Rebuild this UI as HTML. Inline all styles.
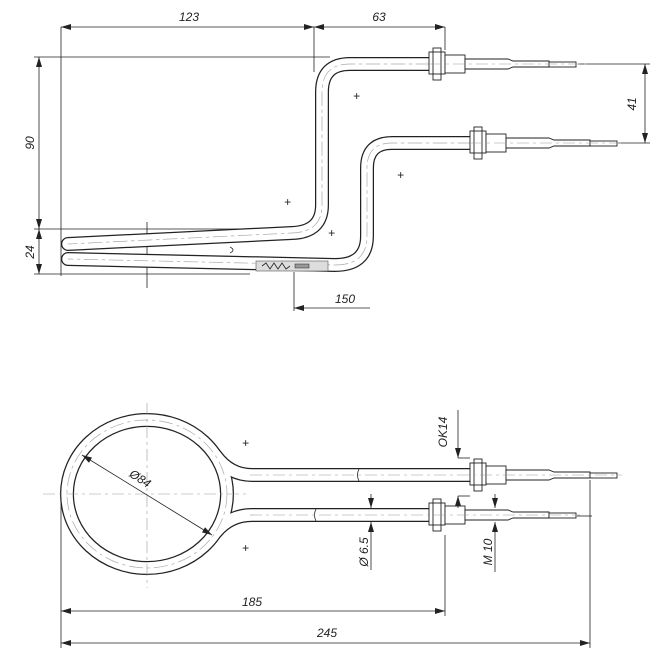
<!DOCTYPE html>
<html><head><meta charset="utf-8"><style>
html,body{margin:0;padding:0;background:#fff}
svg{display:block}
text{font-family:"Liberation Sans",sans-serif;font-style:italic;font-size:12px;fill:#222}
</style></head><body>
<svg width="670" height="655" viewBox="0 0 670 655" xmlns="http://www.w3.org/2000/svg">
<defs>
<marker id="a" viewBox="0 0 10 6" refX="10" refY="3" markerWidth="10" markerHeight="6" orient="auto-start-reverse" markerUnits="userSpaceOnUse"><path d="M0,0L10,3L0,6z" fill="#222"/></marker>
<g id="tubeU"><path d="M430,64 H350 Q322,64 322,92 V205 Q322,232 292,233 L68,244" fill="none"/></g>
<g id="tubeL"><path d="M472,143 H392 Q367,143 367,168 V236 Q367,265 335,265 L68,259" fill="none"/></g>
<g id="neck"><path d="M216,456 Q230,475 252,475 H472 M216,532 Q230,515 252,515 H432" fill="none"/></g>
</defs>
<g stroke="#222" stroke-width="0.8" fill="none">
<line x1="61" y1="27" x2="61" y2="276"/><line x1="314" y1="27" x2="314" y2="72"/><line x1="445" y1="27" x2="445" y2="50"/>
<line x1="61" y1="27" x2="314" y2="27" marker-start="url(#a)" marker-end="url(#a)"/>
<line x1="314" y1="27" x2="445" y2="27" marker-start="url(#a)" marker-end="url(#a)"/>
<line x1="34" y1="57" x2="330" y2="57"/><line x1="34" y1="229" x2="295" y2="229"/><line x1="34" y1="274" x2="250" y2="274"/>
<line x1="39" y1="57" x2="39" y2="229" marker-start="url(#a)" marker-end="url(#a)"/>
<line x1="39" y1="229" x2="39" y2="274" marker-start="url(#a)" marker-end="url(#a)"/>
<line x1="578" y1="64" x2="650" y2="64"/><line x1="618" y1="143" x2="650" y2="143"/>
<line x1="645" y1="64" x2="645" y2="143" marker-start="url(#a)" marker-end="url(#a)"/>
<line x1="147" y1="222" x2="147" y2="288"/>
<line x1="294" y1="272" x2="294" y2="311"/>
<line x1="294" y1="308" x2="370" y2="308" marker-start="url(#a)"/>
</g>
<g stroke-linecap="round">
<use href="#tubeU" stroke="#222" stroke-width="14"/><use href="#tubeU" stroke="#fff" stroke-width="11.5"/>
<use href="#tubeL" stroke="#222" stroke-width="14"/><use href="#tubeL" stroke="#fff" stroke-width="11.5"/>
<use href="#tubeU" stroke="#aaa" stroke-width="0.7" stroke-dasharray="14 4 3 4"/>
<use href="#tubeL" stroke="#aaa" stroke-width="0.7" stroke-dasharray="14 4 3 4"/>
</g>
<path d="M230,247 q6,3 0,6" stroke="#222" fill="none" stroke-width="0.8"/>
<rect x="256" y="261" width="72" height="10" fill="#ddd" stroke="#555" stroke-width="0.6"/>
<path d="M262,266 l4,-3 4,6 4,-6 4,6 4,-6 4,6 4,-3" stroke="#222" fill="none" stroke-width="0.8"/>
<rect x="295" y="264" width="14" height="4" fill="#999" stroke="#222" stroke-width="0.5"/>
<g stroke="#222" stroke-width="0.9" fill="#fff" id="fitU">
<rect x="433" y="48" width="8" height="32"/><rect x="429" y="52" width="16" height="22"/><line x1="433" y1="52" x2="433" y2="74"/><line x1="441" y1="52" x2="441" y2="74"/>
<rect x="445" y="55" width="20" height="18"/>
<path d="M465,59 H508 L513,61 H549 V67 H513 L508,69 H465 Z"/>
<rect x="549" y="62" width="27" height="5"/>
</g>
<use href="#fitU" transform="translate(41,79)"/>
<g stroke="#999" stroke-width="0.6" stroke-dasharray="12 4 3 4"><line x1="430" y1="64" x2="590" y2="64"/><line x1="471" y1="143" x2="625" y2="143"/></g>
<g font-size="12"><text x="189" y="21" text-anchor="middle">123</text><text x="379" y="21" text-anchor="middle">63</text>
<text transform="translate(34,143) rotate(-90)" text-anchor="middle">90</text>
<text transform="translate(34,252) rotate(-90)" text-anchor="middle">24</text>
<text transform="translate(636,104) rotate(-90)" text-anchor="middle">41</text>
<text x="345" y="303" text-anchor="middle">150</text></g>
<g font-size="9" font-style="normal"><text x="353" y="100">+</text><text x="284" y="206">+</text><text x="328" y="237">+</text><text x="397" y="179">+</text>
<text x="242" y="447">+</text><text x="242" y="552">+</text></g>

<!-- bottom view -->
<use href="#neck" stroke="#222" stroke-width="14" stroke-linecap="round"/>
<ellipse cx="147" cy="494" rx="80" ry="74" fill="none" stroke="#222" stroke-width="14"/>
<ellipse cx="147" cy="494" rx="80" ry="74" fill="none" stroke="#fff" stroke-width="11.5"/>
<use href="#neck" stroke="#fff" stroke-width="11.5" stroke-linecap="round"/>
<ellipse cx="147" cy="494" rx="80" ry="74" fill="none" stroke="#aaa" stroke-width="0.7" stroke-dasharray="14 4 3 4"/>
<path d="M359,469 q-3,6 0,12 M316,509 q-3,6 0,12" stroke="#222" fill="none" stroke-width="0.8"/>
<use href="#fitU" transform="translate(41,411)"/>
<use href="#fitU" transform="translate(0,451)"/>
<g stroke="#999" stroke-width="0.6" stroke-dasharray="12 4 3 4"><line x1="250" y1="475" x2="622" y2="475"/><line x1="250" y1="515" x2="580" y2="515"/><line x1="43" y1="494" x2="247" y2="494"/><line x1="147" y1="403" x2="147" y2="588"/></g>
<g stroke="#222" stroke-width="0.8" fill="none">
<line x1="82" y1="455" x2="212" y2="535" marker-start="url(#a)" marker-end="url(#a)"/>
<line x1="458" y1="410" x2="458" y2="458" marker-end="url(#a)"/><line x1="458" y1="458" x2="470" y2="458"/>
<line x1="458" y1="508" x2="458" y2="496" marker-end="url(#a)"/><line x1="458" y1="496" x2="470" y2="496"/>
<line x1="371" y1="494" x2="371" y2="508" marker-end="url(#a)"/><line x1="371" y1="570" x2="371" y2="522" marker-end="url(#a)"/>
<line x1="495" y1="494" x2="495" y2="508" marker-end="url(#a)"/><line x1="495" y1="572" x2="495" y2="522" marker-end="url(#a)"/>
<line x1="61" y1="500" x2="61" y2="648"/><line x1="445" y1="535" x2="445" y2="616"/><line x1="590" y1="480" x2="590" y2="648"/><line x1="577" y1="516" x2="592" y2="516"/>
<line x1="61" y1="611" x2="445" y2="611" marker-start="url(#a)" marker-end="url(#a)"/>
<line x1="61" y1="643" x2="590" y2="643" marker-start="url(#a)" marker-end="url(#a)"/>
</g>
<text transform="translate(138,482) rotate(33)" text-anchor="middle">Ø84</text>
<text transform="translate(447,432) rotate(-90)" text-anchor="middle">OK14</text>
<text transform="translate(368,552) rotate(-90)" text-anchor="middle">Ø 6.5</text>
<text transform="translate(492,552) rotate(-90)" text-anchor="middle">M 10</text>
<text x="252" y="606" text-anchor="middle">185</text>
<text x="327" y="637" text-anchor="middle">245</text>
</svg>
</body></html>
